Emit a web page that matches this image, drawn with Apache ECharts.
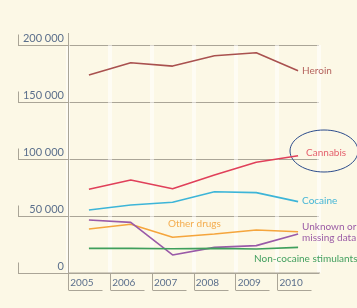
<!DOCTYPE html>
<html>
<head>
<meta charset="utf-8">
<script src="https://cdn.jsdelivr.net/npm/echarts@6/dist/echarts.min.js"></script>
<style>
  html, body { margin: 0; padding: 0; background: #fcf8e6; }
  #chart { width: 357px; height: 308px; }
</style>
</head>
<body>
<div id="chart"></div>
<script>
// values
const years = ['2005', '2006', '2007', '2008', '2009', '2010']
const yTicks = [0, 50000, 100000, 150000, 200000]
const heroin = [173700, 184400, 181500, 190600, 193200, 177400]
const cannabis = [73400, 81600, 73900, 86000, 97100, 102900]
const cocaine = [55300, 59600, 62000, 71300, 70500, 62600]
const otherDrugs = [38600, 42700, 31300, 34200, 37700, 36200]
const unknown = [46500, 44400, 15800, 22500, 24000, 34200]
const stimulants = [21600, 21600, 21300, 21600, 21000, 22500]

const grey = '#aaa597'
const textBlue = '#5b6f8c'
const font = 'Lato'

function line(name, data, color, extra) {
  return Object.assign({
    name: name,
    type: 'line',
    data: data,
    showSymbol: false,
    symbol: 'none',
    lineStyle: { color: color, width: 1.6 },
    itemStyle: { color: color },
    animation: false,
  }, extra || {})
}

const chart = echarts.init(document.getElementById('chart'))
chart.setOption({
  backgroundColor: '#fcf8e6',
  animation: false,
  grid: { left: 68, right: 38, top: 45, bottom: 35 },
  xAxis: {
    type: 'category',
    data: years,
    boundaryGap: true,
    axisLine: { show: false },
    axisTick: { show: false },
    axisLabel: {
      color: textBlue, fontFamily: font, fontSize: 10,
      margin: 5, padding: [0, 14, 0, 0],
    },
    splitLine: { show: true, lineStyle: { color: 'rgba(255,255,255,0.55)', width: 4 } },
  },
  yAxis: {
    type: 'value',
    min: 0,
    max: 200000,
    interval: 50000,
    axisLine: { show: true, lineStyle: { color: grey, width: 1 } },
    axisTick: { show: true, length: 50, lineStyle: { color: grey, width: 1 } },
    axisLabel: {
      color: textBlue, fontFamily: font, fontSize: 11,
      margin: 4, verticalAlign: 'bottom', padding: [0, 0, 1, 0],
      formatter: v => v === 0 ? '0' : String(v).replace(/(\d)(?=(\d{3})+$)/g, '$1 '),
    },
    splitLine: { show: true, lineStyle: { color: grey, width: 1 } },
  },
  series: [
    line('Heroin', heroin, '#a9514f', {
      endLabel: { show: true, formatter: 'Heroin', color: '#b5635e', fontFamily: font, fontSize: 10, distance: 4 },
    }),
    line('Cannabis', cannabis, '#e0405a', {
      endLabel: { show: true, formatter: 'Cannabis', color: '#e45f6c', fontFamily: font, fontSize: 10, distance: 8, offset: [0, -3] },
    }),
    line('Cocaine', cocaine, '#3db5d8', {
      endLabel: { show: true, formatter: 'Cocaine', color: '#46b6d6', fontFamily: font, fontSize: 10, distance: 4, offset: [0, -1] },
    }),
    line('Other drugs', otherDrugs, '#f5a53c', {
      showSymbol: true,
      symbol: 'circle',
      symbolSize: 0,
      label: {
        show: true, position: 'top', color: '#f4ad4f', fontFamily: font, fontSize: 10, offset: [-20, 0],
        formatter: p => p.dataIndex === 3 ? 'Other drugs' : '',
      },
    }),
    line('Unknown or missing data', unknown, '#9a5aa8', {
      endLabel: { show: true, formatter: 'Unknown or\nmissing data', color: '#9b5ca6', fontFamily: font, fontSize: 10, lineHeight: 11, distance: 4, offset: [0, -2] },
    }),
    line('Non-cocaine stimulants', stimulants, '#3f9f5c', {
      endLabel: { show: true, formatter: 'Non-cocaine stimulants', color: '#43a05f', fontFamily: font, fontSize: 10, distance: 0, offset: [-44, 11] },
    }),
  ],
})

// bracket decorations on both axes, placed from the axis scales
const g = []
const zeroY = chart.convertToPixel({ yAxisIndex: 0 }, 0)
const topY = chart.convertToPixel({ yAxisIndex: 0 }, yTicks[yTicks.length - 1])
const leftX = chart.convertToPixel({ xAxisIndex: 0 }, years[0])
const step = chart.convertToPixel({ xAxisIndex: 0 }, years[1]) - leftX
const axisX = Math.round(leftX - step / 2) + 0.5

g.push({ type: 'line', shape: { x1: axisX, y1: topY - 12, x2: axisX, y2: topY }, style: { stroke: grey, lineWidth: 1 } })
yTicks.forEach(t => {
  const y = Math.round(chart.convertToPixel({ yAxisIndex: 0 }, t)) + 0.5
  g.push({ type: 'line', shape: { x1: 18.5, y1: y - 11, x2: 18.5, y2: y }, style: { stroke: grey, lineWidth: 1 } })
})
g.push({ type: 'line', shape: { x1: axisX, y1: zeroY, x2: 320, y2: zeroY }, style: { stroke: grey, lineWidth: 1 } })
years.forEach(y => {
  const x = Math.round(chart.convertToPixel({ xAxisIndex: 0 }, y) - step / 2) + 0.5
  g.push({ type: 'line', shape: { x1: x, y1: zeroY, x2: x, y2: zeroY + 17 }, style: { stroke: grey, lineWidth: 1 } })
  g.push({ type: 'line', shape: { x1: x, y1: zeroY + 17.5, x2: x + 34, y2: zeroY + 17.5 }, style: { stroke: grey, lineWidth: 1 } })
})
g.push({ type: 'ellipse', shape: { cx: 324, cy: 151, rx: 34, ry: 21 }, style: { fill: 'none', stroke: '#2c4c8c', lineWidth: 1 } })
chart.setOption({ graphic: g })
</script>
</body>
</html>
